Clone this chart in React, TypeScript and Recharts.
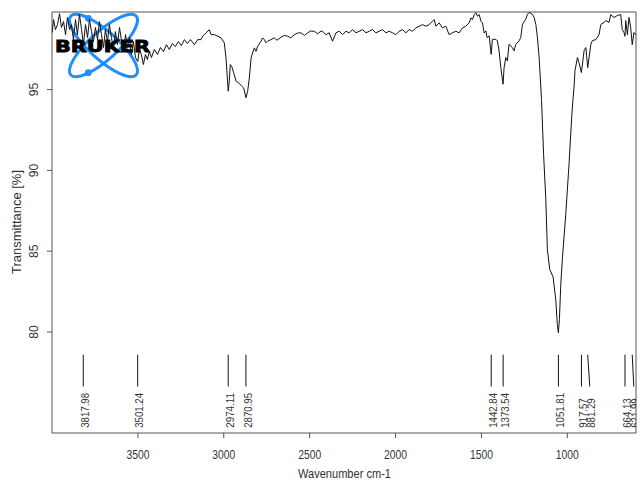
import React from 'react';
import {
  ComposedChart,
  Line,
  Scatter,
  XAxis,
  YAxis,
  ReferenceLine,
  ReferenceArea
} from 'recharts';

// [wavenumber cm-1, transmittance %], high to low wavenumber
const spectrumPoints: [number, number][] = [
  [3999, 98.53], [3991, 99.33], [3980, 98.71], [3968, 99.02], [3956, 99.7], [3945, 98.84],
  [3933, 99.21], [3921, 98.4], [3910, 99.46], [3898, 98.71], [3887, 99.02], [3875, 98.09],
  [3863, 99.33], [3852, 98.4], [3840, 99.64], [3828, 98.71], [3817, 97.78], [3805, 99.02],
  [3793, 98.22], [3782, 99.33], [3770, 98.59], [3759, 97.97], [3747, 98.84], [3735, 98.09],
  [3724, 99.21], [3712, 98.4], [3700, 97.6], [3689, 98.71], [3677, 97.97], [3666, 99.02],
  [3654, 98.22], [3642, 97.48], [3631, 98.59], [3619, 97.78], [3607, 98.84], [3596, 98.09],
  [3584, 97.35], [3572, 98.4], [3561, 97.6], [3549, 98.22], [3538, 97.17], [3526, 97.97],
  [3514, 96.98], [3501, 96.73], [3491, 97.48], [3480, 97.17], [3468, 96.55], [3456, 97.17],
  [3445, 96.86], [3433, 97.35], [3421, 96.98], [3404, 97.48], [3386, 97.17], [3369, 97.6],
  [3351, 97.35], [3334, 97.78], [3317, 97.48], [3299, 97.85], [3282, 97.66], [3264, 97.97],
  [3247, 97.72], [3229, 98.09], [3212, 97.85], [3194, 98.09], [3171, 97.78], [3152, 98.09],
  [3132, 98.09], [3123, 98.3], [3103, 98.51], [3084, 98.71], [3074, 98.4], [3055, 98.4],
  [3035, 98.3], [3016, 98.2], [2997, 97.89], [2987, 96.96], [2974, 94.9], [2968, 95.51],
  [2962, 96.55], [2954, 96.44], [2942, 96.03], [2928, 95.51], [2913, 95.41], [2894, 95.2],
  [2884, 95.1], [2871, 94.49], [2861, 94.89], [2851, 95.72], [2841, 96.96], [2832, 97.27],
  [2822, 97.58], [2812, 97.37], [2803, 97.68], [2783, 97.99], [2774, 98.2], [2764, 98.09],
  [2754, 97.89], [2745, 97.99], [2725, 98.09], [2706, 98.2], [2690, 98.05], [2667, 98.24],
  [2648, 98.35], [2628, 98.3], [2610, 98.2], [2589, 98.4], [2570, 98.5], [2550, 98.51],
  [2530, 98.35], [2512, 98.51], [2495, 98.62], [2473, 98.61], [2455, 98.45], [2434, 98.61],
  [2425, 98.61], [2405, 98.4], [2386, 98.51], [2367, 97.99], [2347, 98.51], [2328, 98.61],
  [2308, 98.4], [2289, 98.61], [2269, 98.51], [2250, 98.71], [2230, 98.51], [2211, 98.61],
  [2192, 98.71], [2172, 98.51], [2153, 98.61], [2134, 98.71], [2114, 98.51], [2095, 98.61],
  [2075, 98.71], [2056, 98.51], [2037, 98.61], [2017, 98.51], [1998, 98.4], [1979, 98.61],
  [1959, 98.71], [1940, 98.51], [1920, 98.71], [1901, 98.61], [1881, 98.82], [1862, 98.92],
  [1843, 99.02], [1823, 98.92], [1804, 99.02], [1785, 99.23], [1775, 99.33], [1765, 98.92],
  [1746, 99.13], [1727, 98.82], [1707, 98.92], [1688, 98.4], [1669, 98.51], [1649, 98.61],
  [1630, 98.51], [1610, 98.82], [1591, 98.92], [1571, 99.13], [1561, 99.44], [1552, 99.33],
  [1542, 99.64], [1532, 99.75], [1523, 99.54], [1513, 99.64], [1503, 99.23], [1494, 99.13],
  [1484, 98.5], [1474, 98.63], [1467, 98.22], [1455, 98.32], [1443, 97.18], [1436, 98.11],
  [1416, 98.11], [1407, 98.01], [1397, 97.4], [1387, 96.36], [1374, 95.33], [1368, 96.36],
  [1358, 96.98], [1349, 96.78], [1339, 97.8], [1320, 97.6], [1310, 97.4], [1300, 97.8],
  [1281, 98.01], [1271, 98.22], [1261, 99.04], [1242, 99.35], [1232, 99.66], [1222, 99.77],
  [1203, 99.66], [1193, 99.46], [1183, 99.02], [1174, 98.22], [1164, 96.98], [1150, 94.38],
  [1138, 91.0], [1125, 88.19], [1116, 85.1], [1102, 83.86], [1083, 83.42], [1067, 82.0],
  [1058, 80.45], [1052, 79.96], [1046, 80.76], [1038, 82.93], [1029, 84.48], [1009, 87.26],
  [990, 90.36], [974, 93.35], [967, 94.38], [961, 95.12], [955, 96.18], [941, 96.98],
  [932, 96.67], [918, 96.05], [902, 97.42], [892, 97.6], [881, 96.36], [873, 96.98],
  [863, 97.78], [854, 98.03], [834, 98.09], [815, 98.4], [805, 99.02], [786, 99.15],
  [776, 99.27], [757, 99.15], [747, 99.64], [728, 99.46], [709, 99.58], [689, 99.64],
  [680, 98.71], [670, 98.53], [664, 98.3], [660, 99.27], [650, 98.4], [641, 99.46],
  [631, 98.84], [622, 97.78], [612, 98.53], [602, 98.4]
];

// picked peaks: position, where its label sits, label text
const peakWn = [3817.98, 3501.24, 2974.11, 2870.95, 1442.84, 1373.54, 1051.81, 917.57, 881.29, 664.13, 621.99];
const peakLabelWn = [3817.98, 3501.24, 2974.11, 2870.95, 1442.84, 1373.54, 1051.81, 917.57, 869, 664.13, 613];
const peakText = ['3817.98', '3501.24', '2974.11', '2870.95', '1442.84', '1373.54', '1051.81', '917.57', '881.29', '664.13', '621.99'];

const xTicks = [3500, 3000, 2500, 2000, 1500, 1000];
const yTicks = [80, 85, 90, 95];
const xDomain = [600, 4000];
const yDomain = [73.75, 99.8];
const markTop = 78.59;
const markBottom = 76.63;
const labelBase = 74.07;

const spectrum = spectrumPoints.map(([wn, t]) => ({ wn, t }));
const peakLabels = peakText.map((label, i) => ({ wn: peakLabelWn[i], t: labelBase, label }));

const FONT = '"Liberation Sans", Arial, sans-serif';
const TEXT = '#333';

const XTick = (props: any) => {
  const { x, y, payload } = props;
  return (
    <text x={x} y={y + 19} textAnchor="middle" fontSize={13} fontFamily={FONT} fill={TEXT}
      textLength={23} lengthAdjust="spacingAndGlyphs">
      {payload.value}
    </text>
  );
};

const YTick = (props: any) => {
  const { x, y, payload } = props;
  const bx = x - 6.7;
  return (
    <text x={bx} y={y} textAnchor="middle" fontSize={13} fontFamily={FONT} fill={TEXT}
      transform={`rotate(-90 ${bx} ${y})`} textLength={13.5} lengthAdjust="spacingAndGlyphs">
      {payload.value}
    </text>
  );
};

const PeakLabel = (props: any) => {
  const { cx, cy, payload } = props;
  const s: string = payload.label;
  const len = (s.length - 1) * 5.4 + 2.5;
  const bx = cx + 5.7;
  return (
    <text x={bx} y={cy} fontSize={11} fontFamily={FONT} fill={TEXT}
      transform={`rotate(-90 ${bx} ${cy})`} textLength={len} lengthAdjust="spacingAndGlyphs">
      {s}
    </text>
  );
};

const Logo = () => (
  <svg width={641} height={481} style={{ position: 'absolute', left: 0, top: 0 }}>
    <ellipse cx={103.5} cy={45.5} rx={44} ry={14} transform="rotate(42 103.5 45.5)"
      fill="none" stroke="#1f8fff" strokeWidth={3} />
    <ellipse cx={103.5} cy={45.5} rx={44} ry={14} transform="rotate(-42 103.5 45.5)"
      fill="none" stroke="#1f8fff" strokeWidth={3} />
    <circle cx={88.3} cy={18.3} r={3.4} fill="#1f8fff" />
    <circle cx={88.3} cy={72.7} r={3.4} fill="#1f8fff" />
    <text x={55} y={51.5} fontSize={16.5} fontWeight={900} fontFamily='"DejaVu Sans", sans-serif'
      fill="#000" stroke="#000" strokeWidth={0.9} textLength={95} lengthAdjust="spacingAndGlyphs">BRUKER</text>
    <text x={344.5} y={478} textAnchor="middle" fontSize={13} fontFamily={FONT} fill={TEXT}
      textLength={93} lengthAdjust="spacingAndGlyphs">Wavenumber cm-1</text>
    <text x={21} y={222} textAnchor="middle" fontSize={13} fontFamily={FONT} fill={TEXT}
      transform="rotate(-90 21 222)" textLength={104} lengthAdjust="spacingAndGlyphs">Transmittance [%]</text>
  </svg>
);

export default function App() {
  return (
    <div style={{ position: 'absolute', left: 0, top: 0, width: 641, height: 481, background: '#fff' }}>
      <Logo />
      <ComposedChart width={641} height={481} margin={{ top: 12, right: 5, bottom: 0, left: 0 }}>
        <XAxis
          dataKey="wn"
          type="number"
          domain={xDomain}
          reversed
          allowDataOverflow
          ticks={xTicks}
          height={48}
          axisLine={false}
          tickLine={{ stroke: '#555' }}
          tickSize={5}
          tick={<XTick />}
        />
        <YAxis
          type="number"
          domain={yDomain}
          allowDataOverflow
          ticks={yTicks}
          width={52}
          axisLine={false}
          tickLine={{ stroke: '#555' }}
          tickSize={5}
          tick={<YTick />}
        />
        <ReferenceArea x1={xDomain[0]} x2={xDomain[1]} y1={yDomain[0]} y2={yDomain[1]}
          fill="none" stroke="#555" strokeWidth={1} ifOverflow="visible" />
        {peakWn.map((wn, i) => (
          <ReferenceLine key={wn} ifOverflow="visible" stroke="#111" strokeWidth={1}
            segment={[{ x: wn, y: markTop }, { x: peakLabelWn[i], y: markBottom }]} />
        ))}
        <Line data={spectrum} dataKey="t" type="linear" stroke="#111" strokeWidth={1}
          dot={false} activeDot={false} isAnimationActive={false} />
        <Scatter data={peakLabels} dataKey="t" shape={<PeakLabel />} isAnimationActive={false} />
      </ComposedChart>
    </div>
  );
}
